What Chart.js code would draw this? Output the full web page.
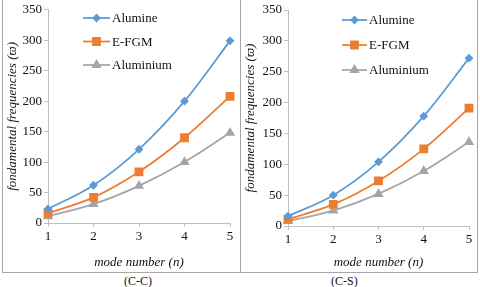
<!DOCTYPE html>
<html>
<head>
<meta charset="utf-8">
<script src="https://cdn.jsdelivr.net/npm/chart.js@4.4.0/dist/chart.umd.min.js"></script>
<style>
  body { margin: 0; width: 480px; height: 287px; background: #fff; position: relative; overflow: hidden; font-family: "Liberation Serif", serif; }
  .panel { position: absolute; top: 0; height: 272px; }
  #p1 { left: 2px; width: 237px; border-left: 1px solid #a6a6a6; border-right: 1px solid #a6a6a6; border-bottom: 1px solid #a6a6a6; }
  #p2 { left: 241px; width: 236px; border-right: 1px solid #a6a6a6; border-bottom: 1px solid #a6a6a6; }
  .cap { position: absolute; top: 274px; font-size: 12px; color: #111; }
</style>
</head>
<body>
<div class="panel" id="p1"><canvas id="chartCC"></canvas></div>
<div class="panel" id="p2"><canvas id="chartCS"></canvas></div>
<div class="cap" style="left:124px">(C-C)</div>
<div class="cap" style="left:331px">(C-S)</div>
<script>
// mode numbers
const modes = ['1', '2', '3', '4', '5'];

// (C-C)
const ccAlumine = [23, 62, 121, 200, 299];
const ccEfgm = [16, 42, 84, 140, 208];
const ccAluminium = [11, 31, 61, 100, 148];

// (C-S)
const csAlumine = [16, 50, 104, 178, 272];
const csEfgm = [11, 35, 73, 125, 191];
const csAluminium = [8, 25, 52, 89, 136];

const seriesNames = ['Alumine', 'E-FGM', 'Aluminium'];
const colors = ['#5b9bd5', '#ed7d31', '#a5a5a5'];

const serif = 'Liberation Serif';

// legend drawn inside the plot area, like in the original
const insideLegend = {
  id: 'insideLegend',
  afterDraw(chart, args, opts) {
    const ctx = chart.ctx;
    ctx.save();
    chart.data.datasets.forEach((ds, i) => {
      const y = opts.y + i * opts.gap;
      ctx.strokeStyle = ds.borderColor;
      ctx.fillStyle = ds.backgroundColor;
      ctx.lineWidth = 1.75;
      ctx.beginPath();
      ctx.moveTo(opts.x, y);
      ctx.lineTo(opts.x + opts.len, y);
      ctx.stroke();
      Chart.helpers.drawPoint(ctx, { pointStyle: ds.pointStyle, radius: ds.pointRadius, borderWidth: 1 }, opts.x + opts.len / 2, y);
      ctx.fillStyle = '#111';
      ctx.font = '13px "' + serif + '"';
      ctx.textBaseline = 'middle';
      ctx.fillText(ds.label, opts.x + opts.len + 2, y + 1);
    });
    ctx.restore();
  }
};

function makeDatasets(a, b, c) {
  const styles = [['rectRot', 3.2], ['rect', 5], ['triangle', 4.2]];
  return [a, b, c].map((vals, i) => ({
    label: seriesNames[i],
    data: vals,
    borderColor: colors[i],
    backgroundColor: colors[i],
    borderWidth: 1.75,
    pointStyle: styles[i][0],
    pointRadius: styles[i][1],
    pointHoverRadius: styles[i][1],
    tension: 0.4,
    cubicInterpolationMode: 'monotone'
  }));
}

function makeChart(id, datasets, cfg) {
  new Chart(document.getElementById(id), {
    type: 'line',
    data: { labels: modes, datasets: datasets },
    plugins: [insideLegend],
    options: {
      responsive: true,
      maintainAspectRatio: false,
      animation: false,
      layout: { padding: { top: cfg.top, right: cfg.right, left: 0, bottom: 0 } },
      plugins: {
        legend: { display: false },
        tooltip: { enabled: false },
        insideLegend: cfg.legend
      },
      scales: {
        x: {
          type: 'category',
          offset: false,
          grid: { drawOnChartArea: false, drawTicks: true, tickLength: 4, color: '#bfbfbf' },
          border: { color: '#bfbfbf' },
          ticks: { color: '#111', font: { family: serif, size: 13 }, padding: 2, maxRotation: 0 },
          title: { display: true, text: 'mode number (n)', color: '#111', font: { family: serif, size: 13, style: 'italic' }, padding: { top: 0, bottom: 2 } },
          afterFit(scale) { scale.height = cfg.xh; }
        },
        y: {
          min: 0,
          max: 350,
          grid: { drawOnChartArea: false, drawTicks: true, tickLength: 4, color: '#bfbfbf' },
          border: { color: '#bfbfbf' },
          ticks: { stepSize: 50, color: '#111', font: { family: serif, size: 13 }, padding: 2 },
          title: { display: true, text: 'fondamental frequencies (ϖ)', color: '#111', font: { family: serif, size: 13, style: 'italic' }, padding: { top: 2, bottom: 0 } },
          afterFit(scale) { scale.width = cfg.yw; }
        }
      }
    }
  });
}

makeChart('chartCC', makeDatasets(ccAlumine, ccEfgm, ccAluminium),
  { top: 9, right: 10, xh: 49, yw: 45, legend: { x: 80, y: 18, gap: 23.5, len: 27 } });
makeChart('chartCS', makeDatasets(csAlumine, csEfgm, csAluminium),
  { top: 10, right: 8, xh: 46, yw: 47, legend: { x: 101, y: 20, gap: 25, len: 25 } });
</script>
</body>
</html>
